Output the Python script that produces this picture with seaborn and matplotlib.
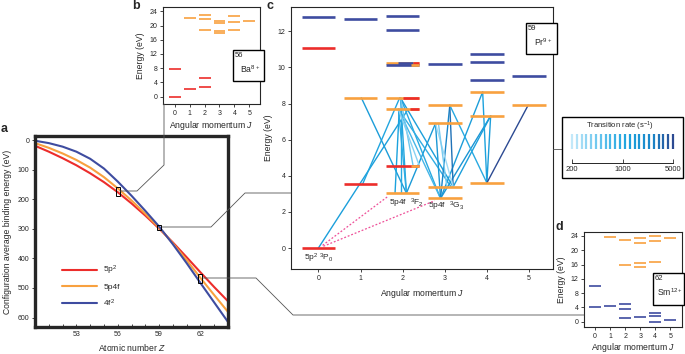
import numpy as np
import pandas as pd
import matplotlib
matplotlib.use("Agg")
import matplotlib.pyplot as plt
import seaborn as sns
from matplotlib.patches import Rectangle
from matplotlib.lines import Line2D
from matplotlib.colors import LinearSegmentedColormap, LogNorm

# ---- panel a: configuration average binding energies ----
Z = list(range(50, 65))
e_5p2 = [19, 39, 61, 85, 112, 142, 176, 214, 255, 299, 346, 396, 447, 497, 545]
e_5p4f = [10, 26, 45, 67, 93, 125, 163, 204, 249, 296, 349, 406, 466, 524, 581]
e_4f2 = [2, 10, 22, 39, 63, 96, 140, 188, 239, 292, 352, 416, 483, 549, 615]
cfg_names = ['5p$^2$', '5p4f', '4f$^2$']
a_xticks = list(range(51, 64))
a_xlabels = ['53', '56', '59', '62']
# zoom boxes (Z, E low, E high)
box_Z = [56, 59, 62]
box_lo = [160, 287, 452]
box_hi = [188, 303, 483]

# ---- panel b: Ba8+ ----
b_J = [0, 0, 1, 1, 2, 2, 2, 2, 2, 3, 3, 3, 3, 4, 4, 4, 5]
b_E = [0.0, 7.7, 2.1, 22.0, 2.6, 5.3, 23.0, 21.7, 18.6, 21.3, 20.6, 18.4, 18.0, 22.6, 21.0, 18.6, 21.2]
b_cfg = ['5p2', '5p2', '5p2', '5p4f', '5p2', '5p2', '5p4f', '5p4f', '5p4f',
         '5p4f', '5p4f', '5p4f', '5p4f', '5p4f', '5p4f', '5p4f', '5p4f']

# ---- panel c: Pr9+ ----
c_J = [0, 0, 0, 1, 1, 1, 2, 2, 2, 2, 2, 2, 2, 2, 3, 3, 3, 3, 3, 4, 4, 4, 4, 4, 4, 5, 5]
c_E = [12.80, 11.07, 0.0, 12.71, 8.32, 3.54, 12.84, 12.10, 10.26, 10.13, 8.32, 7.69, 4.54, 3.04,
       10.22, 7.91, 6.90, 3.39, 2.75, 10.72, 10.28, 9.30, 8.65, 7.32, 3.61, 9.52, 7.91]
c_cfg = ['4f2', '5p2', '5p2', '4f2', '5p4f', '5p2', '4f2', '4f2', '5p4f', '4f2', '5p4f', '5p4f', '5p2', '5p4f',
         '4f2', '5p4f', '5p4f', '5p4f', '5p4f', '4f2', '4f2', '4f2', '5p4f', '5p4f', '5p4f', '4f2', '5p4f']
# mixed levels: part of the bar in another colour
mix_J = [2, 2, 2, 2, 2, 2]
mix_E = [10.26, 10.26, 10.13, 8.32, 7.69, 4.54]
mix_from = [-0.12, 0.24, 0.20, 0.02, 0.17, 0.21]
mix_to = [0.24, 0.40, 0.40, 0.40, 0.40, 0.40]
mix_cfg = ['4f2', '5p2', '5p4f', '5p2', '5p2', '5p4f']

# transitions: lower (J, E) -> upper (J, E), rate in s^-1
tr_j0 = [0.00, 1.05, 2.09, 2.09, 2.09, 1.82, 1.97, 2.09, 1.95, 1.95, 1.90, 1.90, 1.95, 1.90,
         2.90, 2.90, 2.90, 2.90, 3.20, 3.20, 3.20, 3.05, 4.00, 4.00, 4.00, 4.00]
tr_e0 = [0.00, 3.54, 3.04, 3.04, 3.04, 3.04, 3.04, 3.04, 8.32, 8.32, 7.69, 7.69, 8.32, 7.69,
         2.75, 2.75, 2.75, 2.75, 3.39, 3.39, 3.39, 3.39, 3.61, 3.61, 3.61, 3.61]
tr_j1 = [2.13, 1.93, 1.02, 1.95, 1.90, 1.92, 1.97, 2.78, 2.90, 3.20, 2.90, 3.15, 2.25, 2.40,
         2.78, 3.12, 3.90, 4.09, 3.12, 4.09, 2.78, 2.85, 3.12, 3.90, 4.09, 4.98]
tr_e1 = [7.69, 8.32, 8.32, 8.32, 7.69, 7.69, 7.69, 6.90, 2.75, 3.39, 2.75, 3.39, 4.54, 4.54,
         6.90, 7.91, 8.65, 7.32, 7.91, 7.32, 6.90, 6.90, 7.91, 8.65, 7.32, 7.91]
tr_rate = [1300, 1100, 1400, 1100, 900, 1200, 1000, 1500, 1000, 1300, 700, 900, 450, 350,
           1600, 2600, 1400, 1700, 3200, 1300, 280, 400, 1000, 1200, 1400, 5000]

# ---- panel d: Sm12+ ----
d_J = [0, 0, 1, 1, 2, 2, 2, 2, 2, 3, 3, 3, 3, 3, 4, 4, 4, 4, 4, 4, 5, 5]
d_E = [10.1, 4.2, 23.6, 4.4, 22.9, 16.0, 4.8, 3.4, 0.9, 23.4, 22.0, 16.5, 15.4, 1.4,
       24.0, 22.7, 16.8, 2.3, 1.6, -0.1, 23.5, 0.5]
d_cfg = ['4f2', '4f2', '5p4f', '4f2', '5p4f', '5p4f', '4f2', '4f2', '4f2', '5p4f', '5p4f', '5p4f', '5p4f', '4f2',
         '5p4f', '5p4f', '5p4f', '4f2', '4f2', '4f2', '5p4f', '4f2']

rate_ticks = [200, 1000, 5000]

colors = {'5p2': '#ec2d2b', '5p4f': '#f8a13f', '4f2': '#3e4ca0'}
cmap = LinearSegmentedColormap.from_list(
    'rate', [(0.0, '#c2e8f9'), (0.3, '#5cc0ec'), (0.55, '#1ca3de'), (0.8, '#1a85c8'), (1.0, '#2c4a92')])
norm = LogNorm(200, 5000)

sns.set_style("ticks")
plt.rcParams['font.family'] = ['Liberation Sans', 'DejaVu Sans']
plt.rcParams['mathtext.fontset'] = 'custom'
plt.rcParams['mathtext.rm'] = 'Liberation Sans'
plt.rcParams['mathtext.it'] = 'Liberation Sans:italic'
plt.rcParams['mathtext.default'] = 'regular'
plt.rcParams['xtick.major.size'] = 2
plt.rcParams['ytick.major.size'] = 2
plt.rcParams['xtick.major.width'] = 0.6
plt.rcParams['ytick.major.width'] = 0.6
plt.rcParams['xtick.major.pad'] = 2
plt.rcParams['ytick.major.pad'] = 2

W, H = 685, 354
fig = plt.figure(figsize=(W / 100, H / 100), dpi=100)


def rect(x0, y0, x1, y1):
    return [x0 / W, 1 - y1 / H, (x1 - x0) / W, (y1 - y0) / H]


def fx(x):
    return x / W


def fy(y):
    return 1 - y / H


TICK = 5
LAB = 6.2

# ---------------- panel a ----------------
ax_a = fig.add_axes(rect(35, 136, 228, 327))
df = pd.DataFrame({
    'Z': Z * 3,
    'E': e_5p2 + e_5p4f + e_4f2,
    'config': [cfg_names[0]] * 15 + [cfg_names[1]] * 15 + [cfg_names[2]] * 15,
})
sns.lineplot(data=df, x='Z', y='E', hue='config', hue_order=cfg_names,
             palette=[colors['5p2'], colors['5p4f'], colors['4f2']], lw=1.5, ax=ax_a)
ax_a.set_xlim(50, 64)
ax_a.set_ylim(632, -14)
ax_a.set_yticks(range(0, 601, 100))
ax_a.set_xticks(a_xticks)
ax_a.set_xticklabels([str(z) if str(z) in a_xlabels else '' for z in a_xticks])
ax_a.tick_params(axis='x', direction='in', labelsize=TICK, pad=3)
ax_a.tick_params(axis='y', direction='out', labelsize=TICK)
for s in ax_a.spines.values():
    s.set_linewidth(2.4)
ax_a.set_xlabel('Atomic number $\\mathit{Z}$', fontsize=LAB, labelpad=3)
ax_a.set_ylabel('Configuration average binding energy (eV)', fontsize=LAB, labelpad=4)
h, l = ax_a.get_legend_handles_labels()
ax_a.legend(h, l, loc='upper left', bbox_to_anchor=(0.1, 0.37), frameon=False, fontsize=6,
            handlelength=4.2, labelspacing=0.75, handletextpad=0.8)
for z, lo, hi in zip(box_Z, box_lo, box_hi):
    ax_a.add_patch(Rectangle((z - 0.15, lo), 0.3, hi - lo, fill=False, ec='black', lw=0.7, zorder=5))


def level_panel(ax, J, E, cfg, lw):
    for cname in ['5p2', '5p4f', '4f2']:
        jj = np.array([j for j, c in zip(J, cfg) if c == cname])
        ee = np.array([e for e, c in zip(E, cfg) if c == cname])
        if len(jj):
            ax.hlines(ee, jj - 0.4, jj + 0.4, colors=colors[cname], lw=lw, zorder=3)


def frame(ax):
    for s in ax.spines.values():
        s.set_visible(True)
        s.set_linewidth(0.8)
    ax.tick_params(labelsize=TICK, direction='out')


# ---------------- panel b ----------------
ax_b = fig.add_axes(rect(163, 7, 260, 104))
level_panel(ax_b, b_J, b_E, b_cfg, 1.2)
ax_b.set_xlim(-0.79, 5.72)
ax_b.set_ylim(-2.05, 25.2)
ax_b.set_yticks(range(0, 25, 4))
ax_b.set_xticks(range(6))
frame(ax_b)
ax_b.set_ylabel('Energy (eV)', fontsize=LAB, labelpad=3)
ax_b.set_xlabel('Angular momentum $\\mathit{J}$', fontsize=LAB, labelpad=2)

# ---------------- panel c ----------------
ax_c = fig.add_axes(rect(291, 7, 553, 269))
for j0, e0, j1, e1, r in zip(tr_j0, tr_e0, tr_j1, tr_e1, tr_rate):
    ax_c.plot([j0, j1], [e0, e1], color=cmap(norm(r)), lw=1.0, zorder=2)
level_panel(ax_c, c_J, c_E, c_cfg, 1.9)
for j, e, a, b, cname in zip(mix_J, mix_E, mix_from, mix_to, mix_cfg):
    ax_c.hlines(e, j + a, j + b, colors=colors[cname], lw=1.9, zorder=4)
ax_c.plot([0.1, 1.64], [0.15, 2.84], color='#ee4f98', lw=0.9, ls=(0, (1.5, 1.5)), zorder=4)
ax_c.plot([0.12, 2.76], [0.1, 2.62], color='#ee4f98', lw=0.9, ls=(0, (1.5, 1.5)), zorder=4)
ax_c.text(-0.33, -0.2, '5p$^2$ $^3$P$_0$', fontsize=6, va='top', ha='left')
ax_c.text(1.67, 2.86, '5p4f  $^3$F$_2$', fontsize=6, va='top', ha='left')
ax_c.text(2.6, 2.66, '5p4f  $^3$G$_3$', fontsize=6, va='top', ha='left')
ax_c.set_xlim(-0.65, 5.57)
ax_c.set_ylim(-1.16, 13.35)
ax_c.set_yticks(range(0, 13, 2))
ax_c.set_xticks(range(6))
frame(ax_c)
ax_c.set_ylabel('Energy (eV)', fontsize=LAB, labelpad=3)
ax_c.set_xlabel('Angular momentum $\\mathit{J}$', fontsize=LAB, labelpad=4)

# ---------------- panel d ----------------
ax_d = fig.add_axes(rect(584, 232, 682, 327))
level_panel(ax_d, d_J, d_E, d_cfg, 1.2)
ax_d.set_xlim(-0.74, 5.78)
ax_d.set_ylim(-1.5, 25.1)
ax_d.set_yticks(range(0, 25, 4))
ax_d.set_xticks(range(6))
frame(ax_d)
ax_d.set_ylabel('Energy (eV)', fontsize=LAB, labelpad=3)
ax_d.set_xlabel('Angular momentum $\\mathit{J}$', fontsize=LAB, labelpad=1)

# ---------------- ion boxes ----------------
for (x0, y0, x1, y1), num, ion in [((233, 50, 264, 81), '56', 'Ba$^{8+}$'),
                                    ((526, 23, 557, 54), '59', 'Pr$^{9+}$'),
                                    ((653, 273, 684, 305), '62', 'Sm$^{12+}$')]:
    fig.patches.append(Rectangle((fx(x0), fy(y1)), (x1 - x0) / W, (y1 - y0) / H,
                                 transform=fig.transFigure, fc='white', ec='black', lw=1.0, zorder=10))
    fig.text(fx(x0 + 2), fy(y0 + 2), num, fontsize=5.5, va='top', ha='left', zorder=11)
    fig.text(fx(x0 + 17), fy(y0 + 19), ion, fontsize=6.2, va='center', ha='center', zorder=11)

# ---------------- transition rate legend ----------------
fig.patches.append(Rectangle((fx(562), fy(178)), 121 / W, 61 / H, transform=fig.transFigure,
                             fc='white', ec='black', lw=1.0, zorder=10))
fig.text(fx(620), fy(126), 'Transition rate (s$^{-1}$)', fontsize=5.5, ha='center', va='center', zorder=11)
ax_r = fig.add_axes(rect(572, 134, 673, 163), zorder=12)
ax_r.patch.set_alpha(0)
bar_rates = np.geomspace(200, 5000, 22)
ax_r.vlines(bar_rates, 0.48, 1.0, colors=[cmap(norm(r)) for r in bar_rates], lw=1.6, clip_on=False)
ax_r.set_xscale('log')
ax_r.set_xlim(200, 5000)
ax_r.set_ylim(0, 1)
ax_r.set_yticks([])
ax_r.set_xticks(rate_ticks)
ax_r.set_xticklabels([str(t) for t in rate_ticks])
ax_r.xaxis.set_minor_locator(matplotlib.ticker.NullLocator())
ax_r.tick_params(axis='x', direction='in', labelsize=5.5, pad=2, length=3)
for k in ['top', 'left', 'right']:
    ax_r.spines[k].set_visible(False)
ax_r.spines['bottom'].set_linewidth(0.7)

# ---------------- connectors ----------------
for pts in [[(120, 191), (137, 191), (164, 165), (164, 104)],
            [(162, 227), (211, 227), (245, 193), (291, 193)],
            [(203, 278), (256, 278), (293, 315), (584, 315)],
            [(553, 149), (562, 149)]]:
    xs = [fx(p[0]) for p in pts]
    ys = [fy(p[1]) for p in pts]
    fig.add_artist(Line2D(xs, ys, color='#555555', lw=0.6, transform=fig.transFigure, zorder=1))

# ---------------- panel letters ----------------
for txt, x, y in [('a', 4, 129), ('b', 136, 6), ('c', 270, 6), ('d', 559, 227)]:
    fig.text(fx(x), fy(y), txt, fontsize=9, fontweight='bold', ha='center', va='center')

fig.savefig('out.png', dpi=100)
